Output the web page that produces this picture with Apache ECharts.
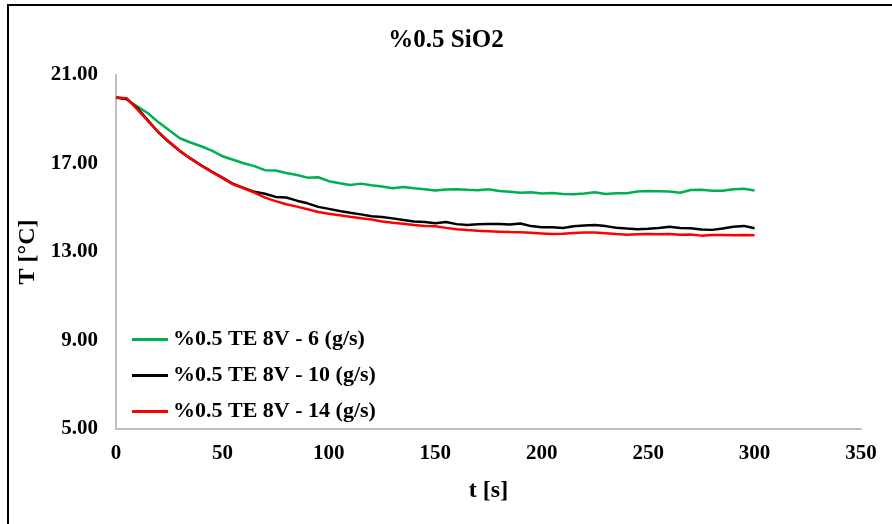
<!DOCTYPE html>
<html>
<head>
<meta charset="utf-8">
<script src="https://cdn.jsdelivr.net/npm/echarts@6/dist/echarts.min.js"></script>
<style>html,body{margin:0;padding:0;background:#fff;}#c{width:892px;height:524px;}</style>
</head>
<body>
<div id="c"></div>
<script>
const chartTitle = '%0.5 SiO2';
const xTitle = 't [s]';
const yTitle = 'T [°C]';
const seriesNames = ['%0.5 TE 8V - 6 (g/s)', '%0.5 TE 8V - 10 (g/s)', '%0.5 TE 8V - 14 (g/s)'];
const seriesColors = ['#00B050', '#000000', '#FF0000'];
const times = [0,5,10,15,20,25,30,35,40,45,50,55,60,65,70,75,80,85,90,95,100,105,110,115,120,125,130,135,140,145,150,155,160,165,170,175,180,185,190,195,200,205,210,215,220,225,230,235,240,245,250,255,260,265,270,275,280,285,290,295,300];
const green6 = [19.98,19.90,19.58,19.27,18.86,18.50,18.14,17.95,17.78,17.58,17.33,17.17,17.01,16.88,16.70,16.68,16.57,16.48,16.36,16.38,16.20,16.11,16.03,16.09,16.02,15.96,15.88,15.94,15.88,15.84,15.78,15.82,15.84,15.81,15.79,15.84,15.76,15.72,15.68,15.70,15.64,15.67,15.62,15.61,15.64,15.70,15.62,15.65,15.66,15.73,15.76,15.75,15.73,15.68,15.80,15.81,15.77,15.77,15.84,15.86,15.78];
const black10 = [19.98,19.92,19.50,18.95,18.40,17.96,17.56,17.23,16.92,16.63,16.36,16.08,15.90,15.72,15.63,15.49,15.46,15.32,15.20,15.04,14.95,14.85,14.77,14.70,14.62,14.58,14.52,14.45,14.38,14.36,14.30,14.36,14.26,14.22,14.25,14.27,14.26,14.24,14.29,14.17,14.12,14.12,14.08,14.16,14.20,14.22,14.17,14.10,14.06,14.03,14.05,14.08,14.14,14.08,14.07,14.02,14.00,14.06,14.14,14.18,14.07];
const red14 = [19.98,19.95,19.45,18.92,18.42,17.98,17.58,17.22,16.90,16.62,16.34,16.06,15.88,15.68,15.46,15.30,15.16,15.05,14.93,14.81,14.73,14.66,14.59,14.53,14.47,14.38,14.32,14.28,14.22,14.18,14.16,14.09,14.03,13.99,13.96,13.94,13.92,13.90,13.89,13.87,13.84,13.81,13.82,13.86,13.88,13.88,13.85,13.81,13.78,13.80,13.81,13.80,13.81,13.78,13.79,13.74,13.77,13.77,13.76,13.77,13.76];
const xTicks = {min: 0, max: 350, interval: 50};
const yTicks = {min: 5, max: 21, interval: 4};

const seriesValues = [green6, black10, red14];
const font = 'Liberation Serif, Times New Roman, serif';

const chart = echarts.init(document.getElementById('c'), null, {renderer: 'canvas'});
chart.setOption({
  backgroundColor: '#ffffff',
  animation: false,
  title: {
    text: chartTitle, left: 'center', top: 28, padding: 0,
    textStyle: {fontFamily: font, fontWeight: 'bold', fontSize: 25, color: '#000'}
  },
  grid: {left: 116, right: 31, top: 75, bottom: 95},
  legend: {
    orient: 'vertical', left: 132, top: 328, padding: 0,
    icon: 'rect', itemWidth: 36, itemHeight: 3, itemGap: 13,
    data: seriesNames,
    textStyle: {fontFamily: font, fontWeight: 'bold', fontSize: 22, lineHeight: 23, color: '#000'}
  },
  xAxis: {
    type: 'value', min: xTicks.min, max: xTicks.max, interval: xTicks.interval,
    name: xTitle, nameLocation: 'middle', nameGap: 50,
    nameTextStyle: {fontFamily: font, fontWeight: 'bold', fontSize: 24, color: '#000'},
    axisLine: {show: true, lineStyle: {color: '#BFBFBF', width: 2}},
    axisTick: {show: false},
    splitLine: {show: false},
    axisLabel: {fontFamily: font, fontWeight: 'bold', fontSize: 21, color: '#000', margin: 14}
  },
  yAxis: {
    type: 'value', min: yTicks.min, max: yTicks.max, interval: yTicks.interval,
    name: yTitle, nameLocation: 'middle', nameGap: 74, nameRotate: 90,
    nameTextStyle: {fontFamily: font, fontWeight: 'bold', fontSize: 24, color: '#000'},
    axisLine: {show: true, lineStyle: {color: '#BFBFBF', width: 2}},
    axisTick: {show: false},
    splitLine: {show: false},
    axisLabel: {fontFamily: font, fontWeight: 'bold', fontSize: 21, color: '#000', margin: 18,
      formatter: v => v.toFixed(2)}
  },
  series: seriesNames.map((n, i) => ({
    name: n, type: 'line', symbol: 'none', smooth: false,
    data: times.map((t, j) => [t, seriesValues[i][j]]),
    lineStyle: {color: seriesColors[i], width: 2.5},
    itemStyle: {color: seriesColors[i]}
  })),
  graphic: [{
    type: 'rect', silent: true,
    shape: {x: 8, y: 5, width: 900, height: 600},
    style: {fill: 'none', stroke: '#000', lineWidth: 2}
  }]
});
</script>
</body>
</html>
